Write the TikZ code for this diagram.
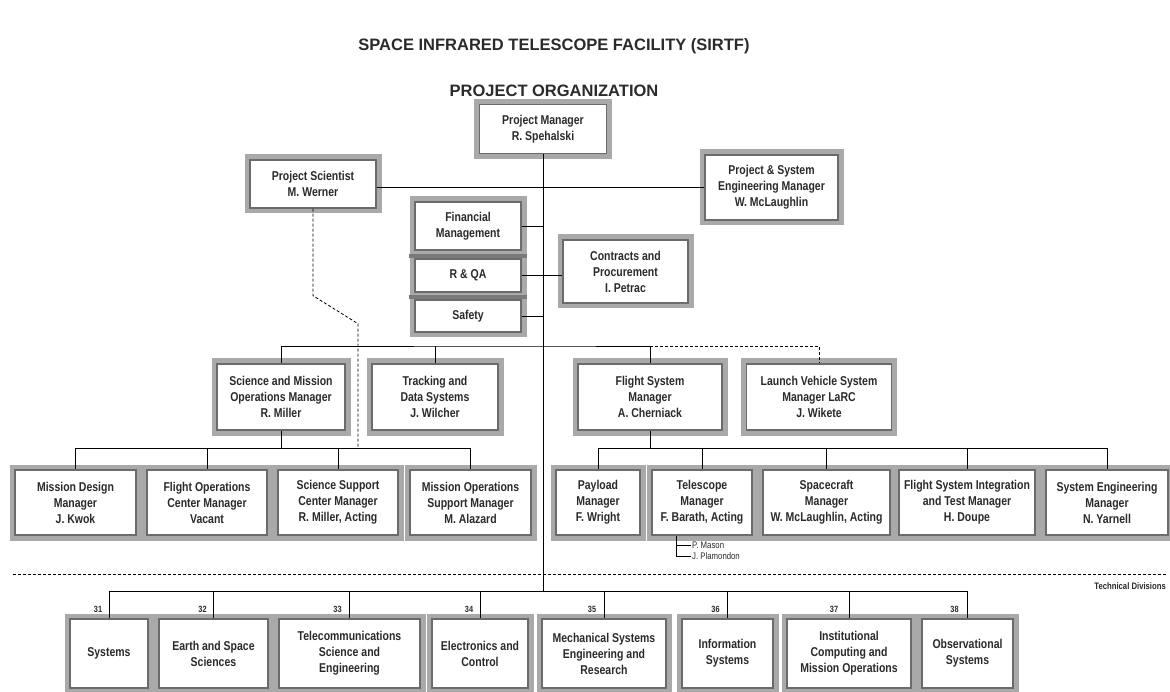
\documentclass[tikz,border=0pt]{standalone}
\usepackage{fontspec}
\setmainfont{Liberation Sans}[FakeStretch=0.82]
\newfontfamily\titlefont{Liberation Sans}
\usetikzlibrary{positioning}
\definecolor{framegray}{HTML}{A9A9A9}
\definecolor{edgegray}{HTML}{6B6B6B}
\definecolor{bargray}{HTML}{7A7A7A}
\definecolor{inkgray}{HTML}{2A2A2A}

\begin{document}
\begin{tikzpicture}[x=1pt, y=-1pt,
    box/.style={draw=edgegray, line width=1.4pt, fill=white, align=center,
      text=inkgray, inner sep=2pt, font=\bfseries\fontsize{12.8}{16}\selectfont,
      preaction={draw=framegray, line width=11pt}},
    link/.style={line width=0.8pt},
    dotlink/.style={line width=0.8pt, dash pattern=on 3pt off 2pt},
    num/.style={font=\bfseries\fontsize{9}{9}\selectfont, text=inkgray, label distance=2pt},
    smalltxt/.style={font=\fontsize{9.5}{10}\selectfont, text=inkgray, inner sep=1pt},
    titletxt/.style={font=\titlefont\bfseries\fontsize{16.5}{18}\selectfont, text=inkgray}]
      \useasboundingbox (0,0) rectangle (1170,692);

      \node[titletxt] (title) at (554,46) {SPACE INFRARED TELESCOPE FACILITY (SIRTF)};
      \node[titletxt] (subtitle) at (554,91) {PROJECT ORGANIZATION};

      % project office
      \node[box, minimum width=127, minimum height=49] (pm) at (543,129) {Project Manager\\R. Spehalski};
      \node[box, minimum width=126, minimum height=48] (ps) at (313,184) {Project Scientist\\M. Werner};
      \node[box, minimum width=133, minimum height=65] (psem) at (771.5,187.5) {Project \& System\\Engineering Manager\\W. McLaughlin};
      \node[box, minimum width=106, minimum height=48] (fin) at (468,226) {Financial\\Management};
      \node[box, minimum width=106, minimum height=33] (rqa) at (468,275.5) {R \& QA};
      \node[box, minimum width=106, minimum height=32] (safety) at (468,316) {Safety};
      \node[box, minimum width=125, minimum height=63] (cp) at (625.5,271.5) {Contracts and\\Procurement\\I. Petrac};
      \fill[bargray] ([xshift=-5.5pt,yshift=-3pt]fin.south west) rectangle ([xshift=5.5pt,yshift=-7pt]fin.south east);
      \fill[bargray] ([xshift=-5.5pt,yshift=-2pt]rqa.south west) rectangle ([xshift=5.5pt,yshift=-6pt]rqa.south east);

      % second level
      \node[box, minimum width=128, minimum height=66] (smom) at (281,397) {Science and Mission\\Operations Manager\\R. Miller};
      \node[box, minimum width=126, minimum height=66] (tds) at (435,397) {Tracking and\\Data Systems\\J. Wilcher};
      \node[box, minimum width=144, minimum height=66] (fsm) at (650,397) {Flight System\\Manager\\A. Cherniack};
      \node[box, minimum width=145, minimum height=66] (lvsm) at (819,397) {Launch Vehicle System\\Manager LaRC\\J. Wikete};

      % third level
      \node[box, minimum width=121, minimum height=65] (md) at (75.5,502.5) {Mission Design\\Manager\\J. Kwok};
      \node[box, minimum width=120, minimum height=65] (foc) at (207,502.5) {Flight Operations\\Center Manager\\Vacant};
      \node[box, minimum width=120, minimum height=65] (ssc) at (338,502.5) {Science Support\\Center Manager\\R. Miller, Acting};
      \node[box, minimum width=121, minimum height=65] (mos) at (470.5,502.5) {Mission Operations\\Support Manager\\M. Alazard};
      \node[box, minimum width=84, minimum height=65] (pay) at (598,502.5) {Payload\\Manager\\F. Wright};
      \node[box, minimum width=100, minimum height=65] (tel) at (702,502.5) {Telescope\\Manager\\F. Barath, Acting};
      \node[box, minimum width=127, minimum height=65] (sc) at (826.5,502.5) {Spacecraft\\Manager\\W. McLaughlin, Acting};
      \node[box, minimum width=136, minimum height=65] (fsit) at (967,502.5) {Flight System Integration\\and Test Manager\\H. Doupe};
      \node[box, minimum width=122, minimum height=65] (sem) at (1107,502.5) {System Engineering\\Manager\\N. Yarnell};

      \node[smalltxt, anchor=west] (pmason) at (691,545) {P. Mason};
      \node[smalltxt, anchor=west] (jplam) at (691,556) {J. Plamondon};

      % technical divisions
      \coordinate (sepl) at (13,574);
      \coordinate (sepr) at (1167,574);
      \node[smalltxt, font=\bfseries\fontsize{9.4}{10}\selectfont, below left=7pt and 0pt of sepr] (techdiv) {Technical Divisions};

      \node[box, minimum width=78, minimum height=69, label={[num, name=n31, xshift=-11pt]above:31}] (sys) at (109,653.5) {Systems};
      \node[box, minimum width=109, minimum height=69, label={[num, name=n32, xshift=-11pt]above:32}] (esc) at (213.5,653.5) {Earth and Space\\Sciences};
      \node[box, minimum width=141, minimum height=69, label={[num, name=n33, xshift=-12pt]above:33}] (tsc) at (349.5,653.5) {Telecommunications\\Science and\\Engineering};
      \node[box, minimum width=96, minimum height=69, label={[num, name=n34, xshift=-11pt]above:34}] (ec) at (480,653.5) {Electronics and\\Control};
      \node[box, minimum width=124, minimum height=69, label={[num, name=n35, xshift=-12pt]above:35}] (mse) at (604,653.5) {Mechanical Systems\\Engineering and\\Research};
      \node[box, minimum width=91, minimum height=69, label={[num, name=n36, xshift=-12pt]above:36}] (inf) at (727.5,653.5) {Information\\Systems};
      \node[box, minimum width=124, minimum height=69, label={[num, name=n37, xshift=-15pt]above:37}] (icm) at (849,653.5) {Institutional\\Computing and\\Mission Operations};
      \node[box, minimum width=91, minimum height=69, label={[num, name=n38, xshift=-13pt]above:38}] (obs) at (967.5,653.5) {Observational\\Systems};

      % connectors
      \coordinate (mid2) at (543,346);
      \coordinate (mid3) at (543,448);
      \coordinate (tdbus) at (543,591);
      \coordinate (psend) at (358,448);

      \draw[link] (pm.south) -- (tdbus);
      \draw[link] (ps.east |- psem.west) -- (psem.west);
      \draw[link] (fin.east) -- (fin.east -| pm.south);
      \draw[link] (rqa.east) -- (rqa.east -| cp.west);
      \draw[link] (safety.east) -- (safety.east -| pm.south);
      \draw[dotlink] (ps.south) -- ++(0,87) -- ++(45,28) -- (psend);

      \draw[link] (smom.north) |- (mid2) -| (fsm.north);
      \draw[link] (tds.north) -- (tds.north |- mid2);
      \draw[dotlink] (fsm.north |- mid2) -| (lvsm.north);

      \draw[link] (smom.south) -- (smom.south |- mid3);
      \draw[link] (md.north) |- (mos.north |- mid3) -- (mos.north);
      \draw[link] (foc.north) -- (foc.north |- mid3);
      \draw[link] (ssc.north) -- (ssc.north |- mid3);

      \draw[link] (fsm.south) -- (fsm.south |- mid3);
      \draw[link] (pay.north) |- (sem.north |- mid3) -- (sem.north);
      \draw[link] (tel.north) -- (tel.north |- mid3);
      \draw[link] (sc.north) -- (sc.north |- mid3);
      \draw[link] (fsit.north) -- (fsit.north |- mid3);

      \coordinate (telfoot) at ([xshift=-26pt]tel.south);
      \draw[link, line width=0.6pt] (telfoot) |- (jplam.west);
      \draw[link, line width=0.6pt] (telfoot |- pmason.west) -- (pmason.west);

      \draw[dotlink] (sepl) -- (sepr);
      \draw[link] (sys.north) |- (obs.north |- tdbus) -- (obs.north);
      \draw[link] (esc.north) -- (esc.north |- tdbus);
      \draw[link] (tsc.north) -- (tsc.north |- tdbus);
      \draw[link] (ec.north) -- (ec.north |- tdbus);
      \draw[link] (mse.north) -- (mse.north |- tdbus);
      \draw[link] (inf.north) -- (inf.north |- tdbus);
      \draw[link] (icm.north) -- (icm.north |- tdbus);
\end{tikzpicture}
\end{document}
